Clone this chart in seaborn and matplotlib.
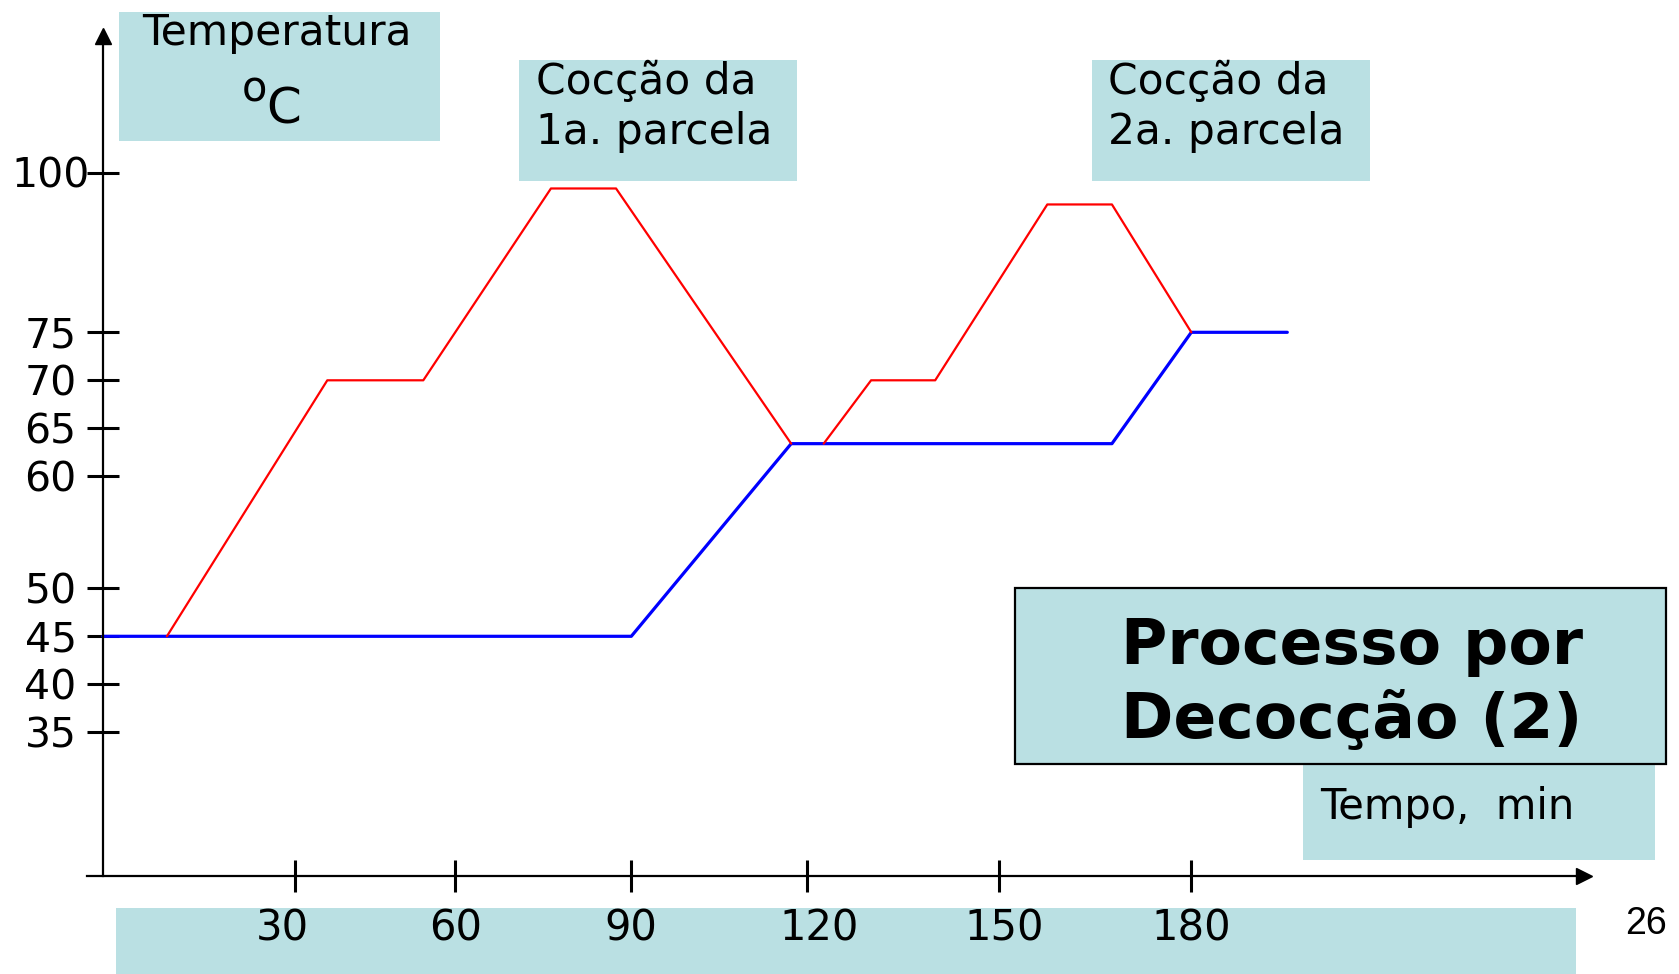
import numpy as np
import matplotlib
matplotlib.use("Agg")
import matplotlib.pyplot as plt
from matplotlib.patches import Rectangle
from matplotlib.transforms import ScaledTranslation
import seaborn as sns

# Temperature (°C) versus time (min) for the double decoction mash
mash_time = [0, 90, 117.3, 167.6, 180, 195]
mash_temp = [45, 45, 63.4, 63.4, 75, 75]

first_cook_time = [10, 36, 54, 76.3, 87.4, 117.3]
first_cook_temp = [45, 70, 70, 97.5, 97.5, 63.4]

second_cook_time = [122.6, 130, 140, 157.5, 167.6, 180]
second_cook_temp = [63.4, 70, 70, 95, 95, 75]

time_ticks = [30, 60, 90, 120, 150, 180]
time_labels = ["30", "60", "90", "120", "150", "180"]
temp_ticks = [35, 40, 45, 50, 60, 65, 70, 75, 100]
temp_labels = ["35", "40", "45", "50", "60", "65", "70", "75", "100"]

# ---------------------------------------------------------------------------
# Figure geometry (pixels) and the piecewise-linear axis calibration
W, H = 1679, 974
DPI = 100

X_CAL_VALS = [-50, 0, 30, 60, 90, 120, 150, 180, 400]
X_CAL_PIX = [-218.3, 102.7, 295.3, 455.3, 631.3, 807.0, 999.3, 1191.3, 2599.3]
Y_CAL_VALS = [0, 35, 40, 45, 50, 60, 65, 70, 75, 100, 200]
Y_CAL_PIX = [1068.3, 732.3, 684.3, 636.3, 588.3, 476.3, 428.3, 380.3, 332.3, 172.5, -467.5]
Y_CAL_H = [H - p for p in Y_CAL_PIX]

# horizontal nudges (pixels) of the time labels inside the bottom band
X_LABEL_SHIFT = [-13, 0, 0, 12, 5, 0]


def x_fwd(v):
    return np.interp(v, X_CAL_VALS, X_CAL_PIX)


def x_inv(p):
    return np.interp(p, X_CAL_PIX, X_CAL_VALS)


def y_fwd(v):
    return np.interp(v, Y_CAL_VALS, Y_CAL_H)


def y_inv(h):
    return np.interp(h, Y_CAL_H, Y_CAL_VALS)


AX_L, AX_R, AX_B, AX_T = 87, 1584.5, 876, 36

TEAL = "#BAE0E3"
FONT = "DejaVu Sans"

sns.set_style("white")
plt.rcParams["font.family"] = [FONT]
plt.rcParams["text.color"] = "black"
plt.rcParams["xtick.color"] = "black"
plt.rcParams["ytick.color"] = "black"

fig = plt.figure(figsize=(W / DPI, H / DPI), dpi=DPI)
fig.patch.set_facecolor("white")

# Overlay in pixel units for the captions and shaded boxes
ov = fig.add_axes([0, 0, 1, 1], zorder=0)
ov.set_xlim(0, W)
ov.set_ylim(H, 0)
ov.axis("off")


def box(x0, y0, x1, y1, edge=None):
    ov.add_patch(Rectangle((x0, y0), x1 - x0, y1 - y0, facecolor=TEAL,
                           edgecolor=edge if edge else "none",
                           linewidth=1.6 if edge else 0))


box(116, 908, 1576, 974)
box(119, 12, 440, 141)
box(519, 60, 797, 181)
box(1092, 60, 1370, 181)
box(1303, 763, 1655, 860)
box(1015, 588, 1666, 763.5, edge="black")

ov.text(277, 45, "Temperatura", fontsize=30.5, ha="center", va="baseline")
ov.text(242, 102, "o", fontsize=30, ha="left", va="baseline")
ov.text(266, 123, "C", fontsize=36, ha="left", va="baseline")

ov.text(536, 94, "Cocção da", fontsize=30.5, ha="left", va="baseline")
ov.text(536, 144, "1a. parcela", fontsize=30.5, ha="left", va="baseline")
ov.text(1108, 94, "Cocção da", fontsize=30.5, ha="left", va="baseline")
ov.text(1108, 144, "2a. parcela", fontsize=30.5, ha="left", va="baseline")

ov.text(1121, 664, "Processo por", fontsize=45.5, fontweight="bold",
        ha="left", va="baseline")
ov.text(1121, 738, "Decocção (2)", fontsize=45.5, fontweight="bold",
        ha="left", va="baseline")

ov.text(1320, 819, "Tempo,  min", fontsize=30, ha="left", va="baseline")
ov.text(1646, 924, "26", fontsize=27, ha="center", va="center",
        family=["Liberation Sans", "DejaVu Sans"])

# Main chart axes
ax = fig.add_axes([AX_L / W, (H - AX_B) / H, (AX_R - AX_L) / W, (AX_B - AX_T) / H],
                  zorder=1)
ax.patch.set_alpha(0)
ax.set_xscale("function", functions=(x_fwd, x_inv))
ax.set_yscale("function", functions=(y_fwd, y_inv))

sns.lineplot(x=mash_time, y=mash_temp, color="#0000FF", linewidth=2.3,
             estimator=None, sort=False, ax=ax)
sns.lineplot(x=first_cook_time, y=first_cook_temp, color="#FF0000",
             linewidth=1.6, estimator=None, sort=False, ax=ax)
sns.lineplot(x=second_cook_time, y=second_cook_temp, color="#FF0000",
             linewidth=1.6, estimator=None, sort=False, ax=ax)

ax.set_xlim(float(x_inv(AX_L)), float(x_inv(AX_R)))
ax.set_ylim(float(y_inv(H - AX_B)), float(y_inv(H - AX_T)))

for side in ("top", "right"):
    ax.spines[side].set_visible(False)
ax.spines["left"].set_position(("data", 0))
for side in ("left", "bottom"):
    ax.spines[side].set_color("black")
    ax.spines[side].set_linewidth(1.6)

ax.set_xticks(time_ticks)
ax.set_xticklabels(time_labels)
ax.set_yticks(temp_ticks)
ax.set_yticklabels(temp_labels)
ax.set_xlabel("")
ax.set_ylabel("")
ax.tick_params(axis="both", which="major", direction="inout", length=23,
               width=2.2, color="black", labelcolor="black",
               bottom=True, left=True, top=False, right=False)
ax.tick_params(axis="x", labelsize=30, pad=11)
ax.tick_params(axis="y", labelsize=29.5, pad=26)
plt.setp(ax.get_yticklabels(), ha="center")
ax.grid(False)

for lab, dx in zip(ax.get_xticklabels(), X_LABEL_SHIFT):
    lab.set_transform(lab.get_transform()
                      + ScaledTranslation(dx / DPI, 0, fig.dpi_scale_trans))

# Arrowheads at the ends of both axes
ax.plot(1, 0, marker=">", color="black", markersize=11,
        transform=ax.transAxes, clip_on=False)
ax.plot(0, 1, marker="^", color="black", markersize=11,
        transform=ax.get_xaxis_transform(), clip_on=False)

fig.savefig("out.png", dpi=DPI, facecolor="white")
